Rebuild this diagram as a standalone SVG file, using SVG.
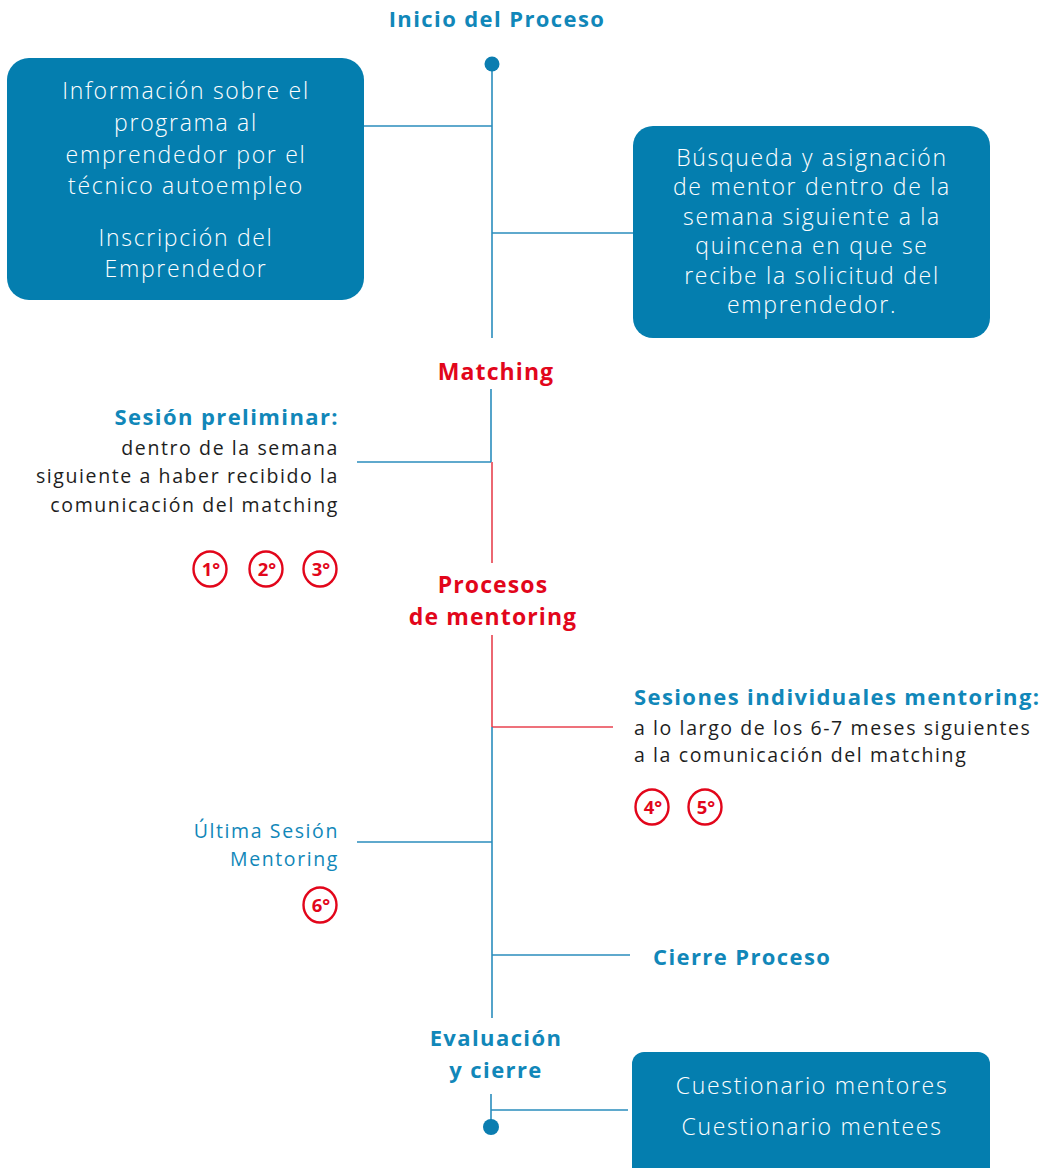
<svg xmlns="http://www.w3.org/2000/svg" width="1049" height="1168" viewBox="0 0 1049 1168">
<style>
.box{fill:#047eaf}
.bt{font-family:"Open Sans","Liberation Sans",sans-serif;font-weight:300;font-size:23px;letter-spacing:1.7px;fill:#fff;text-anchor:middle}
.hb{font-family:"Open Sans","Liberation Sans",sans-serif;font-weight:700;font-size:22px;letter-spacing:1.4px;fill:#1187b9}
.hr{font-family:"Open Sans","Liberation Sans",sans-serif;font-weight:700;font-size:23px;letter-spacing:1.1px;fill:#e2061b;text-anchor:middle}
.tx{font-family:"Open Sans","Liberation Sans",sans-serif;font-weight:400;font-size:19.5px;letter-spacing:1.6px;fill:#1e1e1e}
.lb{stroke:#2a8dbd;stroke-width:1.6;fill:none}
.lr{stroke:#e8424f;stroke-width:1.6;fill:none}
.c{fill:none;stroke:#e2061b;stroke-width:2.4}
.ct{font-family:"Open Sans","Liberation Sans",sans-serif;font-weight:700;font-size:18.5px;fill:#e2061b;text-anchor:middle}
.dot{fill:#0b7db0}
</style>
<g id="connectors">
<line class="lb" x1="492" y1="64" x2="492" y2="338"/>
<line class="lb" x1="364" y1="126" x2="492" y2="126"/>
<line class="lb" x1="492" y1="233" x2="633" y2="233"/>
<line class="lb" x1="491" y1="389" x2="491" y2="462"/>
<line class="lb" x1="357" y1="462" x2="491" y2="462"/>
<line class="lr" x1="492" y1="462" x2="492" y2="563"/>
<line class="lr" x1="492" y1="635" x2="492" y2="727"/>
<line class="lr" x1="492" y1="727" x2="613" y2="727"/>
<line class="lb" x1="492" y1="727" x2="492" y2="1018"/>
<line class="lb" x1="357" y1="842" x2="492" y2="842"/>
<line class="lb" x1="492" y1="955" x2="630" y2="955"/>
<line class="lb" x1="491" y1="1094" x2="491" y2="1127"/>
<line class="lb" x1="491" y1="1110" x2="628" y2="1110"/>
<circle class="dot" cx="492" cy="64" r="7.5"/>
<circle class="dot" cx="491" cy="1127" r="8"/>
</g>
<g id="inicio"><text class="hb" x="497" y="27" text-anchor="middle">Inicio del Proceso</text></g>
<g id="box-info">
<rect class="box" x="7" y="58" width="357" height="242" rx="22"/>
<text class="bt" x="186" y="99">Información sobre el</text>
<text class="bt" x="186" y="131">programa al</text>
<text class="bt" x="186" y="163">emprendedor por el</text>
<text class="bt" x="186" y="194">técnico autoempleo</text>
<text class="bt" x="186" y="246">Inscripción del</text>
<text class="bt" x="186" y="277">Emprendedor</text>
</g>
<g id="box-busqueda">
<rect class="box" x="633" y="126" width="357" height="212" rx="20"/>
<text class="bt" x="812" y="166">Búsqueda y asignación</text>
<text class="bt" x="812" y="195">de mentor dentro de la</text>
<text class="bt" x="812" y="225">semana siguiente a la</text>
<text class="bt" x="812" y="254">quincena en que se</text>
<text class="bt" x="812" y="284">recibe la solicitud del</text>
<text class="bt" x="812" y="313">emprendedor.</text>
</g>
<g id="matching"><text class="hr" x="496" y="380">Matching</text></g>
<g id="sesion-preliminar">
<text class="hb" x="339" y="425" text-anchor="end">Sesión preliminar:</text>
<text class="tx" x="339" y="455" text-anchor="end">dentro de la semana</text>
<text class="tx" x="339" y="483" text-anchor="end">siguiente a haber recibido la</text>
<text class="tx" x="339" y="512" text-anchor="end">comunicación del matching</text>
</g>
<g id="n1"><ellipse class="c" cx="210" cy="569" rx="16.5" ry="17.5"/><text class="ct" x="211" y="576">1°</text></g>
<g id="n2"><ellipse class="c" cx="266" cy="569" rx="16.5" ry="17.5"/><text class="ct" x="267" y="576">2°</text></g>
<g id="n3"><ellipse class="c" cx="320" cy="569" rx="16.5" ry="17.5"/><text class="ct" x="321" y="576">3°</text></g>
<g id="procesos">
<text class="hr" x="493" y="593">Procesos</text>
<text class="hr" x="493" y="625">de mentoring</text>
</g>
<g id="sesiones-individuales">
<text class="hb" x="634" y="705">Sesiones individuales mentoring:</text>
<text class="tx" x="634" y="735">a lo largo de los 6-7 meses siguientes</text>
<text class="tx" x="634" y="762">a la comunicación del matching</text>
</g>
<g id="n4"><ellipse class="c" cx="652" cy="807" rx="16.5" ry="17.5"/><text class="ct" x="653" y="814">4°</text></g>
<g id="n5"><ellipse class="c" cx="705" cy="807" rx="16.5" ry="17.5"/><text class="ct" x="706" y="814">5°</text></g>
<g id="ultima-sesion">
<text class="tx" x="339" y="838" text-anchor="end" style="fill:#1187b9">Última Sesión</text>
<text class="tx" x="339" y="866" text-anchor="end" style="fill:#1187b9">Mentoring</text>
</g>
<g id="n6"><ellipse class="c" cx="320" cy="905" rx="16.5" ry="17.5"/><text class="ct" x="321" y="912">6°</text></g>
<g id="cierre"><text class="hb" x="653" y="965">Cierre Proceso</text></g>
<g id="evaluacion">
<text class="hb" x="496" y="1046" text-anchor="middle">Evaluación</text>
<text class="hb" x="496" y="1078" text-anchor="middle">y cierre</text>
</g>
<g id="box-cuestionario">
<rect class="box" x="632" y="1052" width="358" height="130" rx="12"/>
<text class="bt" x="812" y="1094">Cuestionario mentores</text>
<text class="bt" x="812" y="1135">Cuestionario mentees</text>
</g>
</svg>
